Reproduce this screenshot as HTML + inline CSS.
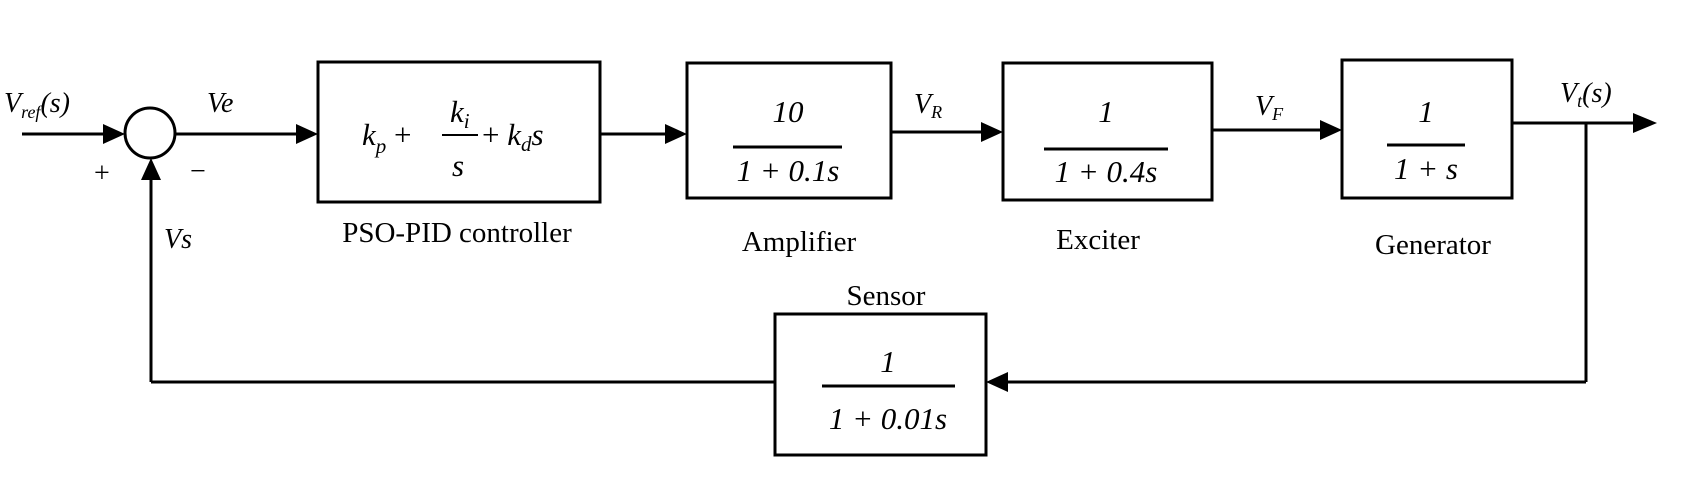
<!DOCTYPE html>
<html><head><meta charset="utf-8"><style>
html,body{margin:0;padding:0;background:#fff;}
svg{display:block}
text{font-family:"Liberation Serif",serif;fill:#000}
.i{font-style:italic}
</style></head><body>
<svg width="1694" height="489" viewBox="0 0 1694 489" xmlns="http://www.w3.org/2000/svg">
<g stroke="#000" stroke-width="3" fill="none">
<circle cx="150" cy="133" r="25"/>
<rect x="318" y="62" width="282" height="140"/>
<rect x="687" y="63" width="204" height="135"/>
<rect x="1003" y="63" width="209" height="137"/>
<rect x="1342" y="60" width="170" height="138"/>
<rect x="775" y="314" width="211" height="141"/>
<line x1="22" y1="134" x2="110" y2="134"/>
<line x1="175" y1="134" x2="298" y2="134"/>
<line x1="600" y1="134" x2="667" y2="134"/>
<line x1="891" y1="132" x2="983" y2="132"/>
<line x1="1212" y1="130" x2="1322" y2="130"/>
<line x1="1512" y1="123" x2="1635" y2="123"/>
<line x1="1586" y1="123" x2="1586" y2="382"/>
<line x1="1586" y1="382" x2="1006" y2="382"/>
<line x1="775" y1="382" x2="151" y2="382"/>
<line x1="151" y1="382" x2="151" y2="180"/>
<line x1="733" y1="147" x2="842" y2="147"/>
<line x1="1044" y1="149" x2="1168" y2="149"/>
<line x1="1387" y1="145" x2="1465" y2="145"/>
<line x1="822" y1="386" x2="955" y2="386"/>
<line x1="442" y1="135" x2="478" y2="135" stroke-width="2"/>
</g>
<g fill="#000">
<polygon points="125,134 103,124 103,144"/>
<polygon points="318,134 296,124 296,144"/>
<polygon points="687,134 665,124 665,144"/>
<polygon points="1003,132 981,122 981,142"/>
<polygon points="1342,130 1320,120 1320,140"/>
<polygon points="1657,123 1633,113 1633,133"/>
<polygon points="986,382 1008,372 1008,392"/>
<polygon points="151,158 141,180 161,180"/>
</g>
<text x="4" y="112" font-size="28" class="i">V<tspan font-size="18" dy="6">ref</tspan><tspan dy="-6">(s)</tspan></text>
<text x="207" y="112" font-size="28" class="i">Ve</text>
<text x="94" y="182" font-size="28">+</text>
<text x="190" y="180" font-size="28">−</text>
<text x="164" y="248" font-size="28" class="i">Vs</text>
<text x="362" y="145" font-size="31" class="i">k<tspan font-size="21" dy="8">p</tspan><tspan dy="-8" font-style="normal"> +</tspan></text>
<text x="450" y="122" font-size="31" class="i">k<tspan font-size="21" dy="6">i</tspan></text>
<text x="452" y="176" font-size="31" class="i">s</text>
<text x="482" y="145" font-size="31"> + <tspan class="i">k</tspan><tspan class="i" font-size="21" dy="6">d</tspan><tspan class="i" dy="-6">s</tspan></text>
<text x="457" y="242" font-size="29" text-anchor="middle">PSO-PID controller</text>
<text x="788" y="122" font-size="31" class="i" text-anchor="middle">10</text>
<text x="788" y="181" font-size="31" class="i" text-anchor="middle">1 + 0.1s</text>
<text x="799" y="251" font-size="29" text-anchor="middle">Amplifier</text>
<text x="914" y="113" font-size="28" class="i">V<tspan font-size="18" dy="5">R</tspan></text>
<text x="1106" y="122" font-size="31" class="i" text-anchor="middle">1</text>
<text x="1106" y="182" font-size="31" class="i" text-anchor="middle">1 + 0.4s</text>
<text x="1098" y="249" font-size="29" text-anchor="middle">Exciter</text>
<text x="1255" y="115" font-size="28" class="i">V<tspan font-size="18" dy="5">F</tspan></text>
<text x="1426" y="122" font-size="31" class="i" text-anchor="middle">1</text>
<text x="1426" y="179" font-size="31" class="i" text-anchor="middle">1 + s</text>
<text x="1433" y="254" font-size="29" text-anchor="middle">Generator</text>
<text x="1560" y="102" font-size="28" class="i">V<tspan font-size="18" dy="5">t</tspan><tspan dy="-5">(s)</tspan></text>
<text x="886" y="305" font-size="29" text-anchor="middle">Sensor</text>
<text x="888" y="372" font-size="31" class="i" text-anchor="middle">1</text>
<text x="888" y="429" font-size="31" class="i" text-anchor="middle">1 + 0.01s</text>
</svg>
</body></html>
